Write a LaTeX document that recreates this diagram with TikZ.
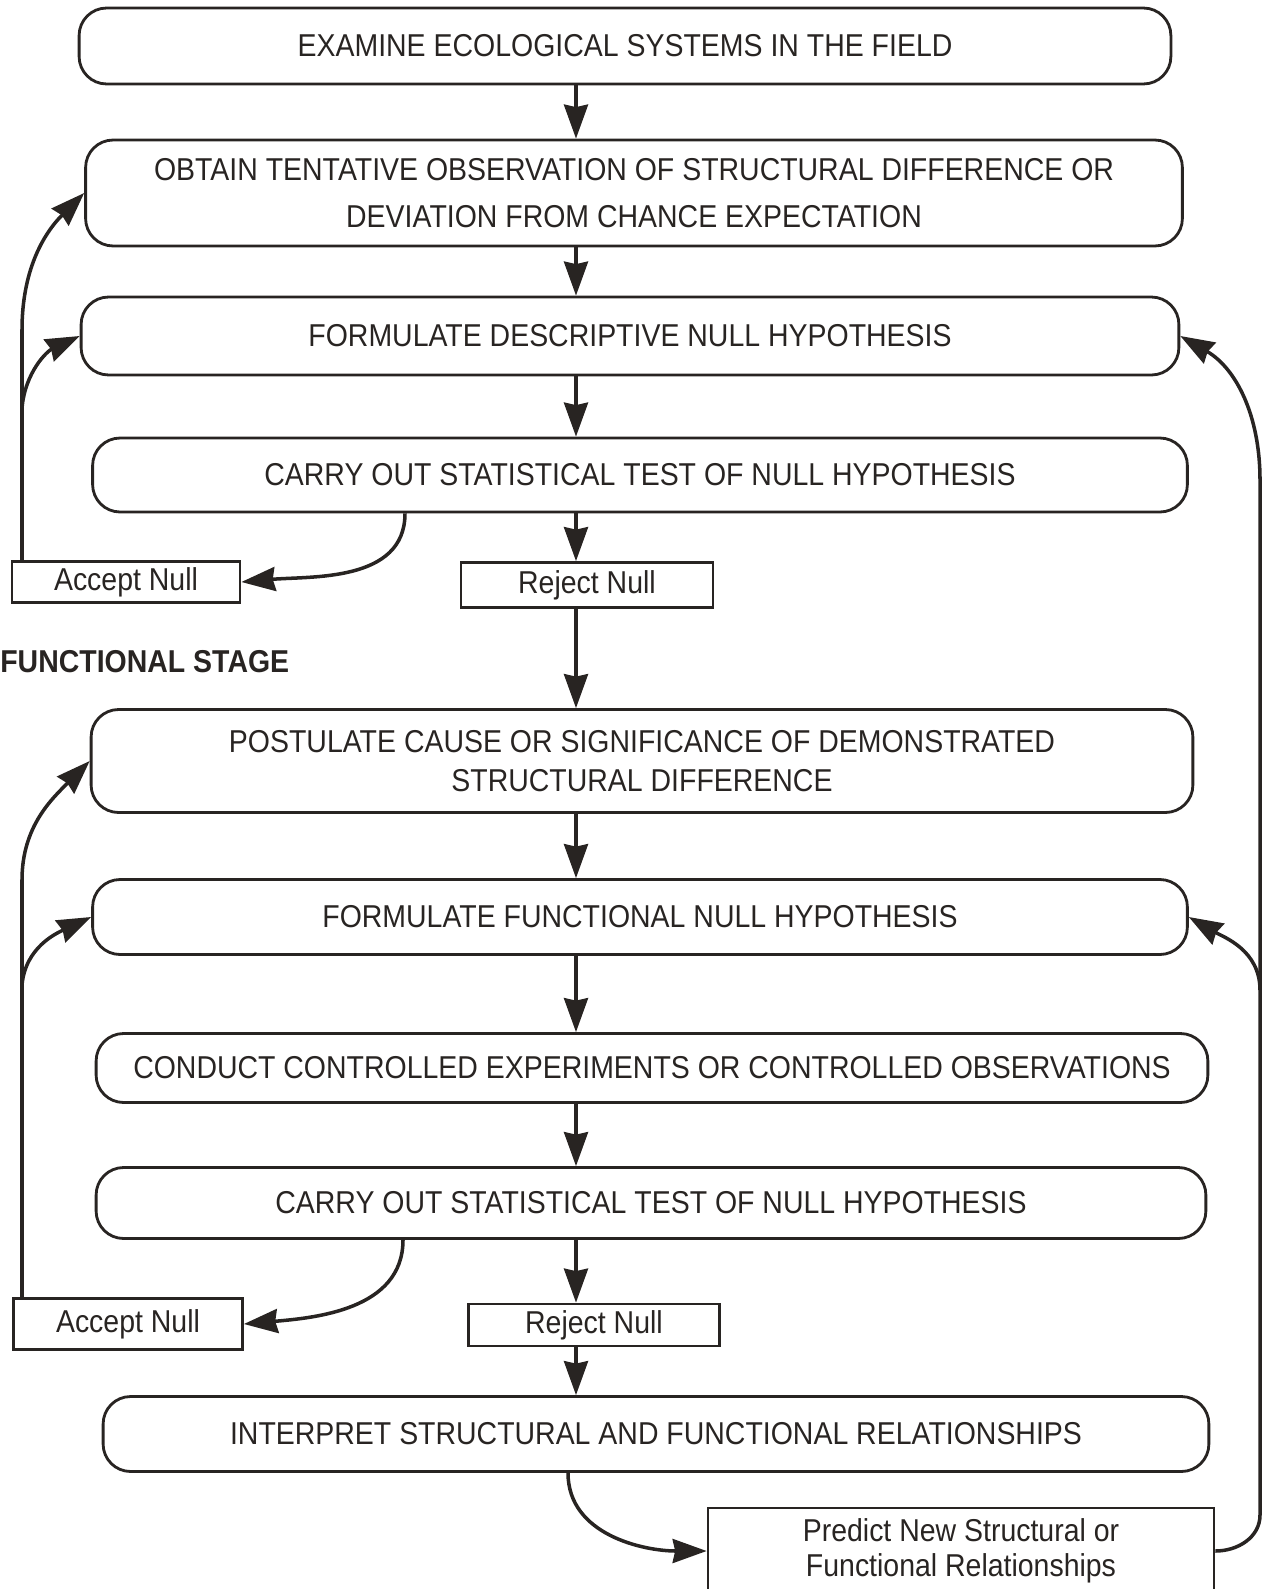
\documentclass[tikz,border=0pt]{standalone}
\usepackage{fontspec}
\setmainfont{Liberation Sans}[FakeStretch=0.9]
\usepackage{tikz}
\usetikzlibrary{arrows.meta,positioning,calc}
\definecolor{ink}{RGB}{40,36,34}
\tikzset{
  stage/.style={rectangle, rounded corners=0.55cm, draw=ink, line width=1.6pt, align=center, text=ink, font=\fontsize{18}{27}\selectfont},
  outcome/.style={rectangle, draw=ink, line width=1.6pt, align=center, text=ink, font=\fontsize{18}{20}\selectfont},
  label/.style={anchor=west, inner sep=0pt, text=ink, font=\fontsize{18}{20}\selectfont\bfseries},
  plain/.style={draw=ink, line width=2pt},
  flow/.style={plain, -{Stealth[length=0.68cm, width=0.48cm, inset=0.05cm]}}
}
\newcommand{\flowdown}[2]{\draw[flow] (#1.south -| spine) -- (#2.north -| spine);}

\begin{document}
\begin{tikzpicture}[x=0.02cm, y=-0.02cm]
\useasboundingbox (0,0) rectangle (1266,1589);

\node[stage, minimum width=21.84cm, minimum height=1.52cm] (examine) at (625,46) {EXAMINE ECOLOGICAL SYSTEMS IN THE FIELD};
\node[stage, minimum width=21.94cm, minimum height=2.12cm] (observe) at (634,193) {OBTAIN TENTATIVE OBSERVATION OF STRUCTURAL DIFFERENCE OR\\DEVIATION FROM CHANCE EXPECTATION};
\node[stage, minimum width=21.96cm, minimum height=1.56cm] (nulldesc) at (630,336) {FORMULATE DESCRIPTIVE NULL HYPOTHESIS};
\node[stage, minimum width=21.9cm, minimum height=1.48cm] (test1) at (640,475) {CARRY OUT STATISTICAL TEST OF NULL HYPOTHESIS};
\node[outcome, minimum width=4.56cm, minimum height=0.76cm] (acc1) at (126,582) {Accept Null};
\node[outcome, minimum width=5.04cm, minimum height=0.9cm] (rej1) at (587,585) {Reject Null};

\node[label] (funcstage) at (0,662) {FUNCTIONAL STAGE};

\node[stage, minimum width=22.04cm, minimum height=2.06cm, font=\fontsize{18}{22}\selectfont] (postulate) at (642,761) {POSTULATE CAUSE OR SIGNIFICANCE OF DEMONSTRATED\\STRUCTURAL DIFFERENCE};
\node[stage, minimum width=21.9cm, minimum height=1.5cm] (nullfunc) at (640,917) {FORMULATE FUNCTIONAL NULL HYPOTHESIS};
\node[stage, minimum width=22.24cm, minimum height=1.38cm] (conduct) at (652,1068) {CONDUCT CONTROLLED EXPERIMENTS OR CONTROLLED OBSERVATIONS};
\node[stage, minimum width=22.2cm, minimum height=1.42cm] (test2) at (651,1203) {CARRY OUT STATISTICAL TEST OF NULL HYPOTHESIS};
\node[outcome, minimum width=4.58cm, minimum height=1.02cm] (acc2) at (128,1324) {Accept Null};
\node[outcome, minimum width=5.02cm, minimum height=0.84cm] (rej2) at (594,1325) {Reject Null};
\node[stage, minimum width=22.12cm, minimum height=1.5cm] (interpret) at (656,1434) {INTERPRET STRUCTURAL AND FUNCTIONAL RELATIONSHIPS};
\node[outcome, minimum width=10.12cm, minimum height=1.72cm] (predict) at (961,1551) {Predict New Structural or\\Functional Relationships};

\coordinate (spine) at (576,0);
\flowdown{examine}{observe}
\flowdown{observe}{nulldesc}
\flowdown{nulldesc}{test1}
\flowdown{test1}{rej1}
\flowdown{rej1}{postulate}
\flowdown{postulate}{nullfunc}
\flowdown{nullfunc}{conduct}
\flowdown{conduct}{test2}
\flowdown{test2}{rej2}
\flowdown{rej2}{interpret}

\coordinate (a1) at (405,0);
\coordinate (a2) at (403,0);
\draw[flow] (test1.south -| a1) to[out=-90,in=5] (acc1.east);
\draw[flow] (test2.south -| a2) to[out=-90,in=5] (acc2.east);

\coordinate (l1) at (22,330);
\coordinate (l2) at (22,408);
\draw[flow] (acc1.north -| l1) -- (l1) to[out=90,in=225] (observe.west);
\draw[flow] (l2) to[out=85,in=205] (nulldesc.west);

\coordinate (l3) at (22,880);
\coordinate (l4) at (22,985);
\draw[flow] (acc2.north -| l3) -- (l3) to[out=90,in=225] (postulate.west);
\draw[flow] (l4) to[out=85,in=205] (nullfunc.west);

\coordinate (b1) at (568,0);
\draw[flow] (interpret.south -| b1) to[out=-90,in=180] (predict.west);

\coordinate (r1) at (1260,1515);
\coordinate (r2) at (1260,990);
\coordinate (r3) at (1260,480);
\draw[flow] (predict.east) to[out=0,in=-90] (r1) -- (r3) to[out=90,in=-30] (nulldesc.east);
\draw[flow] (r2) to[out=90,in=-30] (nullfunc.east);

\end{tikzpicture}
\end{document}
